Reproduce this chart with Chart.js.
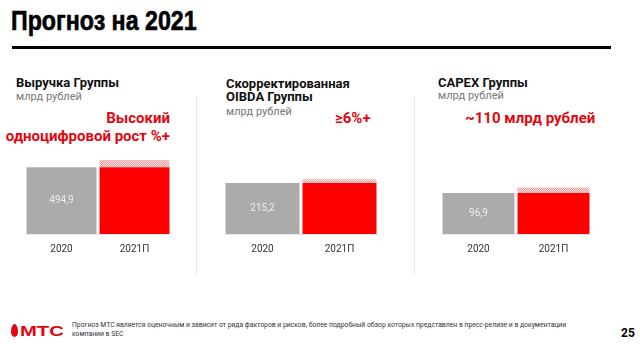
<!DOCTYPE html>
<html lang="ru">
<head>
<meta charset="utf-8">
<script src="https://cdn.jsdelivr.net/npm/chart.js@4.4.1/dist/chart.umd.min.js"></script>
<style>
  html, body { margin: 0; padding: 0; background: #fff; }
  body { width: 640px; height: 344px; position: relative; overflow: hidden; font-family: Roboto, sans-serif; }
  .t { position: absolute; white-space: nowrap; line-height: 1; }
  .title { font-family: 'Liberation Sans', sans-serif; font-weight: bold; font-size: 27px; color: #000;
           transform: scaleX(0.86); transform-origin: left; -webkit-text-stroke: 0.6px #000; }
  .head { font-weight: bold; font-size: 13px; color: #111; }
  .unit { font-size: 11px; color: #777; }
  .accent { font-weight: bold; font-size: 15px; color: #e30611; }
  .sep { position: absolute; width: 1px; background: #e8e8e8; }
  canvas { position: absolute; }
</style>
</head>
<body>
<div class="t title" style="left:11px; top:8px;">Прогноз на 2021</div>
<div style="position:absolute; left:12px; top:46px; width:599px; height:3px; background:#000;"></div>

<!-- panel 1 -->
<div class="t head" style="left:16px; top:76px;">Выручка Группы</div>
<div class="t unit" style="left:16px; top:91px;">млрд рублей</div>
<div class="t accent" style="right:470px; top:111px; text-align:right;">Высокий</div>
<div class="t accent" style="right:470px; top:129px; text-align:right;">одноцифровой рост %+</div>
<canvas id="revenue" width="146" height="124" style="left:25px; top:140px;"></canvas>
<div class="sep" style="left:196px; top:96px; height:178px;"></div>

<!-- panel 2 -->
<div class="t head" style="left:226px; top:77px;">Скорректированная</div>
<div class="t head" style="left:226px; top:90px;">OIBDA Группы</div>
<div class="t unit" style="left:226px; top:106px;">млрд рублей</div>
<div class="t accent" style="left:335px; top:111px;">≥6%+</div>
<canvas id="oibda" width="154" height="124" style="left:224px; top:140px;"></canvas>
<div class="sep" style="left:414px; top:96px; height:178px;"></div>

<!-- panel 3 -->
<div class="t head" style="left:438px; top:76px;">CAPEX Группы</div>
<div class="t unit" style="left:438px; top:90px;">млрд рублей</div>
<div class="t accent" style="left:465px; top:111px;">~110 млрд рублей</div>
<canvas id="capex" width="150" height="124" style="left:441px; top:140px;"></canvas>

<!-- footer -->
<div style="position:absolute; left:11px; top:324px; width:7px; height:13px; background:#e30611; border-radius:50% 50% 50% 50% / 62% 62% 38% 38%;"></div>
<div class="t" style="left:20px; top:323px; font-family:'Liberation Sans', sans-serif; font-weight:bold; font-size:15px; color:#e30611; transform:scaleX(1.35); transform-origin:left;">МТС</div>
<div class="t" style="left:72px; top:321px; font-size:6.8px; line-height:9px; color:#333;">Прогноз МТС является оценочным и зависит от ряда факторов и рисков, более подробный обзор которых представлен в пресс-релизе и в документации<br>компании в SEC</div>
<div class="t" style="left:621px; top:327px; font-weight:bold; font-size:12px; color:#000;">25</div>

<script>
const categories = ['2020', '2021П'];

// уровень 2020 и прогнозный прирост (заштрихованная часть), млрд руб.
const revenueBase = [494.9, 494.9];
const revenueGrowth = [0, 54];
const oibdaBase = [215.2, 215.2];
const oibdaGrowth = [0, 15];
const capexBase = [96.9, 96.9];
const capexGrowth = [0, 13];

const GRAY = '#ababab';
const RED = '#ff0000';

function hatch() {
  const c = document.createElement('canvas');
  c.width = 2; c.height = 2;
  const g = c.getContext('2d');
  g.fillStyle = '#fbe1e1';
  g.fillRect(0, 0, 2, 2);
  g.fillStyle = '#f09c9c';
  g.fillRect(0, 0, 1, 1);
  g.fillRect(1, 1, 1, 1);
  return g.createPattern(c, 'repeat');
}

const valueLabel = {
  id: 'valueLabel',
  afterDatasetsDraw(chart) {
    const bar = chart.getDatasetMeta(0).data[0];
    const v = chart.data.datasets[0].data[0];
    const ctx = chart.ctx;
    ctx.save();
    ctx.font = '10px Roboto';
    ctx.fillStyle = '#ececec';
    ctx.textAlign = 'center';
    ctx.textBaseline = 'middle';
    ctx.fillText(v.toFixed(1).replace('.', ','), bar.x, (bar.y + bar.base) / 2);
    ctx.restore();
  }
};

function makeChart(id, base, growth, max, barPct) {
  new Chart(document.getElementById(id), {
    type: 'bar',
    data: {
      labels: categories,
      datasets: [
        { data: base, backgroundColor: [GRAY, RED], borderWidth: 0 },
        { data: growth, backgroundColor: hatch(), borderWidth: 0 }
      ]
    },
    options: {
      responsive: false,
      animation: false,
      events: [],
      layout: { padding: 0 },
      datasets: { bar: { categoryPercentage: 1, barPercentage: barPct } },
      plugins: { legend: { display: false }, tooltip: { enabled: false } },
      scales: {
        x: {
          stacked: true,
          grid: { display: false, drawTicks: false },
          border: { display: true, color: '#ececec' },
          ticks: { color: '#333', font: { family: 'Roboto', size: 10 }, padding: 9 }
        },
        y: { stacked: true, display: false, min: 0, max: max }
      }
    },
    plugins: [valueLabel]
  });
}

makeChart('revenue', revenueBase, revenueGrowth, 698, 70 / 73);
makeChart('oibda', oibdaBase, oibdaGrowth, 396, 74 / 77);
makeChart('capex', capexBase, capexGrowth, 222, 72 / 75);
</script>
</body>
</html>
